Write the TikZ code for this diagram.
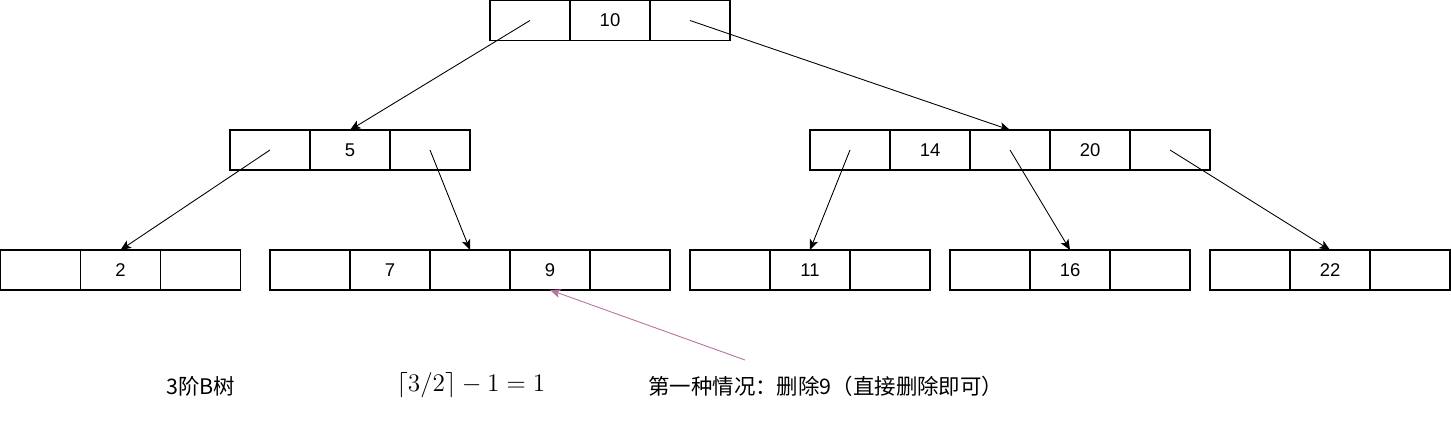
\documentclass[tikz,border=0pt]{standalone}
\usepackage{fontspec}
\setmainfont{Liberation Sans}
\newfontfamily\cjk{Noto Sans CJK SC}
\usetikzlibrary{arrows.meta}
\tikzset{>={Stealth[length=6pt, width=5pt, inset=1.5pt]}}
\definecolor{mypink}{RGB}{181,115,157}
\tikzset{cell/.style={draw, minimum width=1.6cm, minimum height=0.8cm, inner sep=0pt, outer sep=0pt,
  line width=0.6pt, font=\fontsize{10.5}{12}\selectfont}}
\tikzset{ptr/.style={->, line width=0.5pt}}

\begin{document}
\begin{tikzpicture}
\useasboundingbox (0,0) rectangle (29.02,-8.46);
% root
\foreach \k / \t in {1/, 2/10, 3/}{
\node[cell] (r\k) at ({10.6 + 1.6*(\k - 1)}, -0.41) {\t};
}
% second level
\foreach \k / \t in {1/, 2/5, 3/}{
\node[cell] (l\k) at ({5.4 + 1.6*(\k - 1)}, -3.0) {\t};
}
\foreach \k / \t in {1/, 2/14, 3/, 4/20, 5/}{
\node[cell] (m\k) at ({17.0 + 1.6*(\k - 1)}, -3.0) {\t};
}
% leaves
\foreach \k / \t in {1/, 2/2, 3/}{
\node[cell] (a\k) at ({0.81 + 1.6*(\k - 1)}, -5.4) {\t};
}
\foreach \k / \t in {1/, 2/7, 3/, 4/9, 5/}{
\node[cell] (b\k) at ({6.2 + 1.6*(\k - 1)}, -5.4) {\t};
}
\foreach \k / \t in {1/, 2/11, 3/}{
\node[cell] (c\k) at ({14.6 + 1.6*(\k - 1)}, -5.4) {\t};
}
\foreach \k / \t in {1/, 2/16, 3/}{
\node[cell] (d\k) at ({19.8 + 1.6*(\k - 1)}, -5.4) {\t};
}
\foreach \k / \t in {1/, 2/22, 3/}{
\node[cell] (e\k) at ({25.0 + 1.6*(\k - 1)}, -5.4) {\t};
}
% pointers
\draw[ptr] (r1.center) -- (l2.north);
\draw[ptr] (r3.center) -- (m3.north);
\draw[ptr] (l1.center) -- (a2.north);
\draw[ptr] (l3.center) -- (b3.north);
\draw[ptr] (m1.center) -- (c2.north);
\draw[ptr] (m3.center) -- (d2.north);
\draw[ptr] (m5.center) -- (e2.north);
% notes
\node[font=\cjk\fontsize{12.2}{14}\selectfont] (order) at (4.02, -7.72) {3阶B树};
\node[font=\fontsize{15}{17}\selectfont] (minkeys) at (9.42, -7.70) {$\lceil 3/2\rceil - 1 = 1$};
\node[font=\cjk\fontsize{12.2}{14}\selectfont, anchor=west, inner sep=0pt] (case) at (12.96, -7.72) {第一种情况：删除9（直接删除即可）};
\coordinate (note) at (14.9, -7.2);
\draw[->, mypink, line width=0.5pt] (note) -- (b4.south);
\end{tikzpicture}
\end{document}
